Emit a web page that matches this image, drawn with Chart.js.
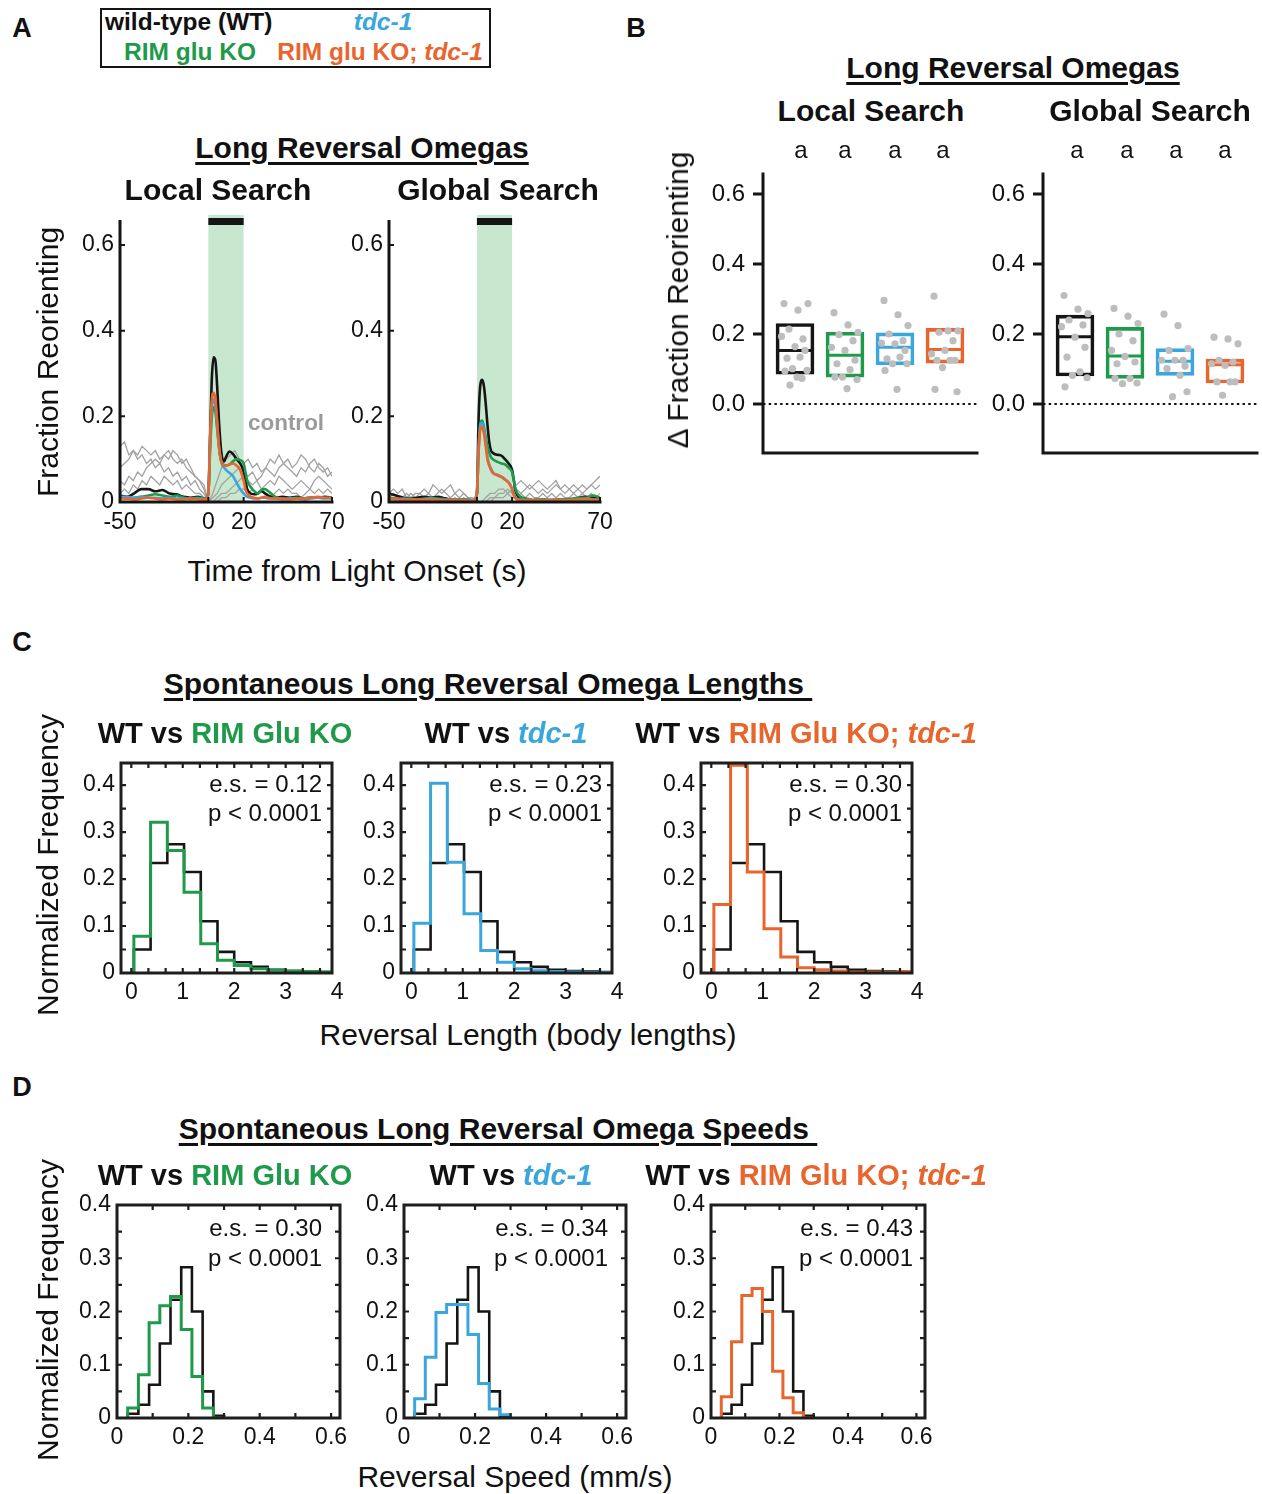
<!DOCTYPE html>
<html><head><meta charset="utf-8">
<script src="https://cdn.jsdelivr.net/npm/chart.js@4.4.1/dist/chart.umd.min.js"></script>
<style>
body{margin:0;background:#fff;}
#page{position:relative;width:1262px;height:1494px;overflow:hidden;background:#fff;font-family:'Liberation Sans',Arial,sans-serif;}
.t{position:absolute;white-space:nowrap;transform:translate(-50%,-50%);line-height:1;color:#111;}
canvas{position:absolute;}
</style></head><body><div id="page"></div>
<script>
// ---------------- DATA ----------------
const groups = ['WT', 'RIM glu KO', 'tdc-1', 'RIM glu KO; tdc-1'];

// Panel A: time axis (s) and mean traces
const tMain = [-50,-46,-42,-38,-34,-30,-26,-22,-18,-14,-10,-6,-2,0,1,2,3,4,5,6,7,8,9,10,12,14,16,18,20,21,22,24,26,28,30,32,34,38,42,46,50,54,58,62,66,70];
const localWT  = [0.015,0.012,0.02,0.03,0.03,0.025,0.028,0.02,0.018,0.012,0.01,0.012,0.008, 0.02,0.15,0.29,0.338,0.33,0.27,0.19,0.13,0.1,0.095,0.105, 0.118,0.112,0.1,0.09,0.072, 0.05,0.03,0.02,0.018,0.02,0.025,0.02,0.015, 0.01,0.012,0.01,0.012,0.008,0.01,0.01,0.012,0.01];
const localRIM = [0.01,0.008,0.01,0.012,0.015,0.018,0.015,0.012,0.015,0.01,0.008,0.01,0.008, 0.02,0.12,0.2,0.222,0.21,0.17,0.13,0.1,0.09,0.085,0.085, 0.088,0.095,0.1,0.098,0.09, 0.07,0.05,0.035,0.025,0.02,0.028,0.03,0.025, 0.012,0.008,0.008,0.01,0.008,0.01,0.01,0.01,0.01];
const localTDC = [0.012,0.012,0.01,0.012,0.01,0.01,0.008,0.01,0.008,0.008,0.006,0.008,0.006, 0.02,0.14,0.225,0.24,0.225,0.18,0.13,0.1,0.085,0.08,0.075, 0.068,0.06,0.045,0.03,0.02, 0.015,0.012,0.01,0.008,0.008,0.01,0.01,0.008, 0.008,0.006,0.008,0.008,0.006,0.008,0.01,0.008,0.008];
const localDBL = [0.008,0.008,0.006,0.008,0.01,0.008,0.006,0.008,0.006,0.006,0.008,0.006,0.005, 0.02,0.15,0.24,0.255,0.24,0.19,0.13,0.1,0.088,0.085,0.085, 0.088,0.09,0.085,0.075,0.05, 0.03,0.02,0.012,0.01,0.008,0.01,0.012,0.01, 0.008,0.008,0.006,0.008,0.008,0.01,0.012,0.01,0.01];
const globalWT  = [0.02,0.015,0.01,0.008,0.01,0.012,0.01,0.012,0.008,0.006,0.005,0.005,0.004, 0.02,0.2,0.275,0.285,0.27,0.23,0.18,0.14,0.12,0.115,0.112, 0.11,0.108,0.1,0.09,0.075, 0.05,0.025,0.01,0.006,0.005,0.005,0.004,0.005, 0.005,0.004,0.005,0.006,0.005,0.01,0.012,0.01,0.008];
const globalRIM = [0.01,0.008,0.006,0.008,0.006,0.008,0.01,0.008,0.006,0.005,0.005,0.006,0.004, 0.02,0.13,0.185,0.19,0.175,0.15,0.13,0.115,0.105,0.1,0.097, 0.093,0.09,0.088,0.08,0.07, 0.05,0.03,0.015,0.01,0.008,0.006,0.005,0.006, 0.006,0.005,0.006,0.006,0.008,0.01,0.01,0.015,0.01];
const globalTDC = [0.008,0.006,0.008,0.006,0.005,0.006,0.008,0.006,0.005,0.006,0.004,0.005,0.004, 0.02,0.125,0.18,0.185,0.17,0.14,0.105,0.088,0.078,0.07,0.066, 0.063,0.059,0.053,0.046,0.032, 0.018,0.01,0.006,0.005,0.004,0.005,0.004,0.005, 0.004,0.005,0.004,0.005,0.004,0.006,0.005,0.006,0.005];
const globalDBL = [0.006,0.008,0.006,0.005,0.006,0.005,0.006,0.005,0.004,0.005,0.004,0.004,0.003, 0.02,0.12,0.17,0.175,0.16,0.13,0.1,0.085,0.075,0.068,0.065, 0.062,0.058,0.052,0.045,0.03, 0.015,0.008,0.005,0.004,0.004,0.005,0.004,0.004, 0.004,0.004,0.005,0.004,0.005,0.006,0.008,0.006,0.005];

// Panel A: control (no light) traces
const tCtrl = [-50,-47.5,-45,-42.5,-40,-37.5,-35,-32.5,-30,-27.5,-25,-22.5,-20,-17.5,-15,-12.5,-10,-7.5,-5,-2.5,0,2.5,5,7.5,10,12.5,15,17.5,20,22.5,25,27.5,30,32.5,35,37.5,40,42.5,45,47.5,50,52.5,55,57.5,60,62.5,65,67.5,70];
const localCtrl1 = [0.13,0.14,0.11,0.12,0.10,0.11,0.09,0.10,0.08,0.09,0.07,0.08,0.06,0.07,0.05,0.06,0.04,0.05,0.03,0.02, 0.0, 0.02,0.05,0.08,0.10,0.11,0.12,0.10,0.09, 0.10,0.08,0.09,0.07,0.08,0.10,0.09,0.11,0.09,0.10,0.08,0.09,0.11,0.10,0.08,0.07,0.09,0.08,0.06,0.07];
const localCtrl2 = [0.08,0.09,0.10,0.12,0.11,0.13,0.12,0.11,0.12,0.10,0.11,0.12,0.10,0.09,0.10,0.08,0.07,0.06,0.05,0.04, 0.0, 0.01,0.02,0.04,0.05,0.06,0.07,0.08,0.07, 0.06,0.07,0.05,0.06,0.08,0.07,0.06,0.08,0.09,0.08,0.07,0.06,0.08,0.07,0.09,0.10,0.08,0.07,0.08,0.06];
const localCtrl3 = [0.05,0.04,0.06,0.05,0.07,0.06,0.08,0.09,0.10,0.09,0.11,0.10,0.12,0.11,0.09,0.10,0.08,0.06,0.05,0.03, 0.0, 0.0,0.01,0.02,0.02,0.03,0.04,0.05,0.06, 0.05,0.04,0.05,0.03,0.04,0.05,0.04,0.06,0.05,0.04,0.03,0.04,0.05,0.04,0.03,0.05,0.06,0.05,0.04,0.03];
const localCtrl4 = [0.02,0.03,0.02,0.04,0.03,0.05,0.04,0.06,0.05,0.04,0.06,0.05,0.04,0.05,0.03,0.04,0.03,0.02,0.02,0.01, 0.0, 0.0,0.0,0.01,0.01,0.02,0.02,0.03,0.03, 0.02,0.03,0.02,0.03,0.02,0.01,0.02,0.03,0.02,0.03,0.02,0.02,0.01,0.02,0.03,0.02,0.03,0.02,0.03,0.02];
const globalCtrl1 = [0.02,0.03,0.02,0.03,0.01,0.02,0.01,0.02,0.03,0.02,0.04,0.03,0.02,0.03,0.04,0.02,0.03,0.02,0.01,0.01, 0.0, 0.0,0.01,0.02,0.02,0.03,0.03,0.02,0.03, 0.04,0.05,0.04,0.03,0.04,0.05,0.04,0.03,0.04,0.05,0.03,0.04,0.03,0.04,0.03,0.04,0.03,0.04,0.05,0.06];
const globalCtrl2 = [0.01,0.02,0.01,0.01,0.02,0.01,0.02,0.02,0.01,0.02,0.01,0.02,0.03,0.02,0.01,0.02,0.01,0.02,0.01,0.0, 0.0, 0.0,0.0,0.01,0.01,0.02,0.02,0.03,0.02, 0.03,0.02,0.03,0.04,0.03,0.02,0.03,0.02,0.03,0.04,0.03,0.02,0.03,0.02,0.03,0.02,0.03,0.04,0.03,0.04];
const globalCtrl3 = [0.0,0.01,0.0,0.01,0.0,0.01,0.01,0.0,0.01,0.0,0.01,0.0,0.01,0.01,0.0,0.01,0.0,0.01,0.0,0.0, 0.0, 0.0,0.0,0.0,0.01,0.01,0.01,0.02,0.01, 0.01,0.02,0.01,0.02,0.01,0.01,0.02,0.01,0.02,0.01,0.02,0.01,0.01,0.02,0.01,0.02,0.01,0.02,0.01,0.02];
const aXTicks = [-50, 0, 20, 70];
const aYTicks = [0, 0.2, 0.4, 0.6];

// Panel B: box (q1, q3, median) and per-animal points
const localQ1  = [0.085, 0.077, 0.112, 0.117];
const localQ3  = [0.230, 0.205, 0.203, 0.216];
const localMed = [0.153, 0.139, 0.162, 0.156];
const globalQ1  = [0.080, 0.073, 0.082, 0.060];
const globalQ3  = [0.254, 0.219, 0.158, 0.128];
const globalMed = [0.192, 0.137, 0.122, 0.112];
const localDotsWT  = [0.287,0.268,0.287,0.214,0.186,0.193,0.164,0.153,0.131,0.134,0.101,0.096,0.094,0.077,0.073,0.054];
const localDotsRIM = [0.261,0.226,0.205,0.198,0.181,0.162,0.153,0.125,0.115,0.098,0.077,0.070,0.077,0.044];
const localDotsTDC = [0.296,0.255,0.224,0.200,0.181,0.174,0.172,0.153,0.129,0.134,0.115,0.115,0.096,0.042];
const localDotsDBL = [0.308,0.209,0.209,0.205,0.181,0.143,0.153,0.125,0.125,0.125,0.104,0.035,0.042];
const globalDotsWT  = [0.310,0.271,0.258,0.240,0.226,0.221,0.191,0.162,0.134,0.092,0.082,0.075,0.049];
const globalDotsRIM = [0.273,0.251,0.230,0.200,0.181,0.153,0.136,0.120,0.115,0.073,0.058,0.060,0.073];
const globalDotsTDC = [0.257,0.224,0.158,0.153,0.125,0.125,0.125,0.108,0.101,0.082,0.021,0.035];
const globalDotsDBL = [0.191,0.186,0.172,0.125,0.120,0.115,0.110,0.063,0.063,0.063,0.025];
const bYTicks = [0, 0.2, 0.4, 0.6];
const sigLetters = ['a', 'a', 'a', 'a'];

// Panel C: reversal length histograms (bin edges in body lengths)
const lenEdges = [0.05,0.375,0.7,1.025,1.35,1.675,2.0,2.325,2.65,2.975,3.3,3.625,3.95];
const lenWT  = [0.050,0.234,0.274,0.215,0.110,0.045,0.023,0.013,0.007,0.004,0.003,0.002];
const lenRIM = [0.078,0.321,0.261,0.172,0.062,0.027,0.016,0.009,0.006,0.004,0.003,0.002];
const lenTDC = [0.106,0.404,0.236,0.126,0.048,0.023,0.009,0.005,0.003,0.002,0.001,0.001];
const lenDBL = [0.146,0.442,0.215,0.094,0.034,0.011,0.007,0.004,0.002,0.002,0.001,0.003];
const lenES = ['0.12', '0.23', '0.30'];
const cXTicks = [0, 1, 2, 3, 4];
const cXMinor = [0.333,0.667,1.333,1.667,2.333,2.667,3.333,3.667];
const cYTicks = [0, 0.1, 0.2, 0.3, 0.4];

// Panel D: reversal speed histograms (bin edges in mm/s)
const spdEdges = [0.03,0.06,0.09,0.12,0.15,0.18,0.21,0.24,0.27,0.30];
const spdWT  = [0.008,0.025,0.0625,0.140,0.222,0.283,0.200,0.050,0.004];
const spdRIM = [0.019,0.081,0.179,0.211,0.228,0.166,0.078,0.019,0.0];
const spdTDC = [0.036,0.114,0.198,0.213,0.213,0.157,0.065,0.017,0.006];
const spdDBL = [0.040,0.143,0.230,0.243,0.200,0.088,0.038,0.010,0.0];
const spdES = ['0.30', '0.34', '0.43'];
const dXTicks = [0, 0.2, 0.4, 0.6];
const dXMinor = [0.1, 0.3, 0.5];
const dYTicks = [0, 0.1, 0.2, 0.3, 0.4];
const yMinor05 = [0.05, 0.15, 0.25, 0.35];

// ---------------- STYLE ----------------
const C_WT = '#151515', C_RIM = '#1f9a4b', C_TDC = '#3aa6dc', C_DBL = '#e8662e';
const FONT = "'Liberation Sans', Arial, sans-serif";
Chart.defaults.font.family = FONT;
Chart.defaults.color = '#111';
const page = document.getElementById('page');

function txt(html, x, y, o = {}) {
  const d = document.createElement('div');
  d.className = 't';
  d.innerHTML = html;
  d.style.left = x + 'px'; d.style.top = y + 'px';
  d.style.fontSize = (o.size || 28) + 'px';
  d.style.fontWeight = o.bold ? '700' : '400';
  if (o.color) d.style.color = o.color;
  let tr = 'translate(-50%,-50%)';
  if (o.rot) tr += ' rotate(-90deg)';
  if (o.left) tr = 'translate(0,-50%)';
  d.style.transform = tr;
  if (o.under) { d.style.textDecoration = 'underline'; d.style.textDecorationThickness = '2.5px'; d.style.textUnderlineOffset = '4px'; }
  page.appendChild(d);
  return d;
}

function fixedTicks(arr) { return s => { s.ticks = arr.map(v => ({ value: v })); }; }

function makeChart(L, T, W, H, padL, padB, config) {
  const padT = 24, padR = 34;
  const c = document.createElement('canvas');
  c.width = W + padL + padR; c.height = H + padT + padB;
  c.style.left = (L - padL) + 'px'; c.style.top = (T - padT) + 'px';
  c.style.width = c.width + 'px'; c.style.height = c.height + 'px';
  page.appendChild(c);
  const o = config.options;
  o.responsive = false; o.animation = false; o.devicePixelRatio = 1;
  o.events = [];
  o.layout = { padding: { top: padT, right: padR, left: 0, bottom: 0 } };
  o.plugins = Object.assign({ legend: { display: false }, tooltip: { enabled: false } }, o.plugins || {});
  o.scales.x.afterFit = s => { s.height = padB; s.paddingLeft = 0; s.paddingRight = 0; };
  o.scales.y.afterFit = s => { s.width = padL; s.paddingTop = 0; s.paddingBottom = 0; };
  return new Chart(c, config);
}

// frame / axes / ticks drawn from the scales
function framePlugin(f) {
  return {
    id: 'frame',
    afterDatasetsDraw(chart) {
      const { ctx, chartArea: a, scales: { x, y } } = chart;
      ctx.save();
      ctx.strokeStyle = f.color || '#151515';
      ctx.lineWidth = f.width;
      ctx.lineCap = 'square';
      ctx.beginPath();
      if (f.box) {
        ctx.rect(a.left, a.top, a.right - a.left, a.bottom - a.top);
      } else {
        const top = f.leftTop != null ? y.getPixelForValue(f.leftTop) : a.top;
        ctx.moveTo(a.left, top); ctx.lineTo(a.left, a.bottom);
        ctx.moveTo(a.left, a.bottom); ctx.lineTo(a.right, a.bottom);
      }
      ctx.stroke();
      ctx.lineCap = 'butt';
      ctx.lineWidth = f.tickWidth;
      ctx.beginPath();
      (f.xTicks || []).forEach(v => {
        const px = x.getPixelForValue(v);
        ctx.moveTo(px, a.bottom); ctx.lineTo(px, a.bottom - f.tickLen);
        if (f.box) { ctx.moveTo(px, a.top); ctx.lineTo(px, a.top + f.tickLen); }
      });
      (f.yTicks || []).forEach(v => {
        const py = y.getPixelForValue(v);
        const d = f.outward ? -f.tickLen : f.tickLen;
        ctx.moveTo(a.left, py); ctx.lineTo(a.left + d, py);
        if (f.box) { ctx.moveTo(a.right, py); ctx.lineTo(a.right - f.tickLen, py); }
      });
      ctx.stroke();
      ctx.restore();
    }
  };
}

// ---------------- PANEL A ----------------
const shadePlugin = {
  id: 'shade',
  beforeDatasetsDraw(chart) {
    const { ctx, chartArea: a, scales: { x } } = chart;
    const x0 = x.getPixelForValue(0), x1 = x.getPixelForValue(20);
    ctx.save();
    ctx.fillStyle = '#c7e7cf';
    ctx.fillRect(x0, a.top, x1 - x0, a.bottom - a.top);
    ctx.fillStyle = '#151515';
    ctx.fillRect(x0, a.top + 3, x1 - x0, 7);
    ctx.restore();
  }
};

function panelA(L, W, traces, ctrls) {
  const ds = [];
  const line = (vals, color, order) => ({
    data: tMain.map((t, i) => ({ x: t, y: vals[i] })), borderColor: color, borderWidth: 2.6,
    pointRadius: 0, cubicInterpolationMode: 'monotone', fill: false, order
  });
  ds.push(line(traces[3], C_DBL, 1));
  ds.push(line(traces[2], C_TDC, 2));
  ds.push(line(traces[1], C_RIM, 3));
  ds.push(line(traces[0], C_WT, 4));
  ctrls.forEach((v, k) => ds.push({
    data: tCtrl.map((t, i) => ({ x: t, y: v[i] })), borderColor: '#a2a2a2', borderWidth: 1.3,
    pointRadius: 0, tension: 0, fill: false, order: 10 + k
  }));
  makeChart(L, 215, W, 287, 60, 40, {
    type: 'line',
    data: { datasets: ds },
    options: {
      scales: {
        x: { type: 'linear', min: -50, max: 70, bounds: 'data', afterBuildTicks: fixedTicks(aXTicks),
             grid: { display: false, drawTicks: false }, border: { display: false },
             ticks: { font: { size: 23 }, color: '#111', padding: 7, maxRotation: 0, autoSkip: false } },
        y: { type: 'linear', min: 0, max: 0.67, bounds: 'data', afterBuildTicks: fixedTicks(aYTicks),
             grid: { display: false, drawTicks: false }, border: { display: false },
             ticks: { font: { size: 23 }, color: '#111', padding: 6, callback: v => v === 0 ? '0' : v.toFixed(1) } }
      }
    },
    plugins: [shadePlugin, framePlugin({ width: 3, leftTop: 0.655, tickWidth: 2, tickLen: 5, xTicks: aXTicks, yTicks: aYTicks })]
  });
}

panelA(120, 212, [localWT, localRIM, localTDC, localDBL], [localCtrl1, localCtrl2, localCtrl3, localCtrl4]);
panelA(389, 211, [globalWT, globalRIM, globalTDC, globalDBL], [globalCtrl1, globalCtrl2, globalCtrl3]);

// ---------------- PANEL B ----------------
const jit = [-0.22, 0.06, 0.26, -0.12, 0.16, -0.27, 0.0, 0.2, -0.16, 0.1, -0.05, 0.24, -0.2, 0.04, 0.14, -0.1];
const boxColors = [C_WT, C_RIM, C_TDC, C_DBL];

function panelB(L, q1, q3, med, dots) {
  const pts = [];
  dots.forEach((arr, g) => arr.forEach((v, i) => pts.push({ x: g + 1 + jit[i % jit.length], y: v })));
  const medianPlugin = {
    id: 'median',
    afterDatasetDraw(chart, args) {
      if (args.index !== 1) return;
      const { ctx, scales: { y } } = chart;
      const meta = chart.getDatasetMeta(1);
      ctx.save();
      ctx.lineWidth = 3;
      meta.data.forEach((bar, i) => {
        const py = y.getPixelForValue(med[i]);
        ctx.strokeStyle = boxColors[i];
        ctx.beginPath();
        ctx.moveTo(bar.x - bar.width / 2, py); ctx.lineTo(bar.x + bar.width / 2, py);
        ctx.stroke();
      });
      ctx.restore();
    }
  };
  const zeroPlugin = {
    id: 'zero',
    beforeDatasetsDraw(chart) {
      const { ctx, chartArea: a, scales: { y } } = chart;
      const py = y.getPixelForValue(0);
      ctx.save();
      ctx.strokeStyle = '#151515'; ctx.lineWidth = 2.2; ctx.setLineDash([2.5, 3.2]);
      ctx.beginPath(); ctx.moveTo(a.left, py); ctx.lineTo(a.right, py); ctx.stroke();
      ctx.restore();
    }
  };
  makeChart(L, 173, 214, 280, 70, 10, {
    type: 'bar',
    data: {
      datasets: [
        { type: 'scatter', data: pts, backgroundColor: '#bdbdbd', borderWidth: 0, pointRadius: 3.6, order: 0 },
        { type: 'bar', data: groups.map((g, i) => ({ x: i + 1, y: [q1[i], q3[i]] })),
          backgroundColor: 'rgba(0,0,0,0)', borderColor: boxColors, borderWidth: 3, borderSkipped: false,
          barThickness: 38, order: 1 }
      ]
    },
    options: {
      scales: {
        x: { type: 'linear', min: 0.36, max: 4.64, bounds: 'data', offset: false, grid: { display: false, drawTicks: false, offset: false },
             border: { display: false }, ticks: { display: false } },
        y: { type: 'linear', min: -0.14, max: 0.66, bounds: 'data', afterBuildTicks: fixedTicks(bYTicks),
             grid: { display: false, drawTicks: false }, border: { display: false },
             ticks: { font: { size: 24 }, color: '#111', padding: 18, callback: v => v.toFixed(1) } }
      }
    },
    plugins: [zeroPlugin, medianPlugin, framePlugin({ width: 3, leftTop: 0.657, tickWidth: 3, tickLen: 10, outward: true, yTicks: bYTicks })]
  });
}
panelB(763, localQ1, localQ3, localMed, [localDotsWT, localDotsRIM, localDotsTDC, localDotsDBL]);
panelB(1043, globalQ1, globalQ3, globalMed, [globalDotsWT, globalDotsRIM, globalDotsTDC, globalDotsDBL]);

// ---------------- PANELS C & D ----------------
function stairs(edges, vals) {
  const p = [{ x: edges[0], y: 0 }];
  vals.forEach((v, i) => { p.push({ x: edges[i], y: v }); p.push({ x: edges[i + 1], y: v }); });
  p.push({ x: edges[vals.length], y: 0 });
  return p;
}
function notePlugin(lines, dx, dy) {
  return {
    id: 'note',
    afterDraw(chart) {
      const { ctx, chartArea: a } = chart;
      ctx.save();
      ctx.font = '24px ' + FONT; ctx.fillStyle = '#111';
      ctx.textAlign = 'right'; ctx.textBaseline = 'middle';
      lines.forEach((s, i) => ctx.fillText(s, a.right - dx, a.top + dy[i]));
      ctx.restore();
    }
  };
}
function hist(L, T, W, H, xr, ymax, edges, wt, mut, color, xT, xMinor, yT, es, dx, dy, xfmt) {
  makeChart(L, T, W, H, 50, 40, {
    type: 'line',
    data: {
      datasets: [
        { data: stairs(edges, mut), borderColor: color, borderWidth: 3, pointRadius: 0, tension: 0, fill: false, order: 0 },
        { data: stairs(edges, wt), borderColor: C_WT, borderWidth: 2.6, pointRadius: 0, tension: 0, fill: false, order: 1 }
      ]
    },
    options: {
      scales: {
        x: { type: 'linear', min: xr[0], max: xr[1], bounds: 'data', afterBuildTicks: fixedTicks(xT),
             grid: { display: false, drawTicks: false }, border: { display: false },
             ticks: { font: { size: 23 }, color: '#111', padding: 6, maxRotation: 0, autoSkip: false, callback: xfmt } },
        y: { type: 'linear', min: 0, max: ymax, bounds: 'data', afterBuildTicks: fixedTicks(yT),
             grid: { display: false, drawTicks: false }, border: { display: false },
             ticks: { font: { size: 23 }, color: '#111', padding: 6, callback: v => v === 0 ? '0' : v.toFixed(1) } }
      }
    },
    plugins: [framePlugin({ box: true, width: 3, color: '#1e1e1e', tickWidth: 2.2, tickLen: 5,
                            xTicks: xT.concat(xMinor).filter(v => v > xr[0] && v < xr[1]), yTicks: yT.concat(yMinor05).filter(v => v > 0 && v < ymax) }),
              notePlugin(['e.s. = ' + es, 'p < 0.0001'], dx, dy)]
  });
}
const intFmt = v => String(v);
const decFmt = v => v === 0 ? '0' : v.toFixed(1);
hist(121, 763, 211, 210, [-0.2, 3.9], 0.447, lenEdges, lenWT, lenRIM, C_RIM, cXTicks, cXMinor, cYTicks, lenES[0], 10, [22, 51], intFmt);
hist(401, 763, 211, 210, [-0.2, 3.9], 0.447, lenEdges, lenWT, lenTDC, C_TDC, cXTicks, cXMinor, cYTicks, lenES[1], 10, [22, 51], intFmt);
hist(701, 763, 211, 210, [-0.2, 3.9], 0.447, lenEdges, lenWT, lenDBL, C_DBL, cXTicks, cXMinor, cYTicks, lenES[2], 10, [22, 51], intFmt);
hist(117, 1205, 223, 213, [0, 0.625], 0.4, spdEdges, spdWT, spdRIM, C_RIM, dXTicks, dXMinor, dYTicks, spdES[0], 18, [24, 54], decFmt);
hist(404, 1205, 222, 213, [0, 0.625], 0.4, spdEdges, spdWT, spdTDC, C_TDC, dXTicks, dXMinor, dYTicks, spdES[1], 18, [24, 54], decFmt);
hist(711, 1205, 214, 213, [0, 0.625], 0.4, spdEdges, spdWT, spdDBL, C_DBL, dXTicks, dXMinor, dYTicks, spdES[2], 12, [24, 54], decFmt);

// ---------------- TEXT ----------------
txt('A', 22, 28, { bold: true, size: 27 });
txt('B', 636, 28, { bold: true, size: 27 });
txt('C', 22, 642, { bold: true, size: 27 });
txt('D', 22, 1087, { bold: true, size: 27 });

const lg = document.createElement('div');
lg.style.cssText = 'position:absolute;left:100px;top:8px;width:387px;height:56px;border:2px solid #151515;';
page.appendChild(lg);
txt('wild-type (WT)', 105, 22, { bold: true, size: 24.5, left: true });
txt('<i>tdc-1</i>', 383, 22, { bold: true, size: 24.5, color: C_TDC });
txt('RIM glu KO', 190, 52, { bold: true, size: 24.5, color: C_RIM });
txt('RIM glu KO; <i>tdc-1</i>', 380, 52, { bold: true, size: 24.5, color: C_DBL });

txt('Long Reversal Omegas', 362, 148, { bold: true, size: 30, under: true });
txt('Local Search', 218, 190, { bold: true, size: 30 });
txt('Global Search', 498, 190, { bold: true, size: 30 });
txt('control', 286, 423, { bold: true, size: 22.5, color: '#9a9a9a' });
txt('Fraction Reorienting', 48, 362, { size: 30, rot: true });
txt('Time from Light Onset (s)', 357, 571, { size: 30 });

txt('Long Reversal Omegas', 1013, 68, { bold: true, size: 30, under: true });
txt('Local Search', 871, 111, { bold: true, size: 30 });
txt('Global Search', 1150, 111, { bold: true, size: 30 });
[801, 845, 895, 943].forEach((x, i) => txt(sigLetters[i], x, 150, { size: 24 }));
[1077, 1127, 1176, 1225].forEach((x, i) => txt(sigLetters[i], x, 150, { size: 24 }));
txt('\u0394 Fraction Reorienting', 678, 300, { size: 30, rot: true });

txt('Spontaneous Long Reversal Omega Lengths\u00a0', 488, 684, { bold: true, size: 30, under: true });
txt('WT vs <span style="color:' + C_RIM + '">RIM Glu KO</span>', 225, 733, { bold: true, size: 29 });
txt('WT vs <span style="color:' + C_TDC + '"><i>tdc-1</i></span>', 506, 733, { bold: true, size: 29 });
txt('WT vs <span style="color:' + C_DBL + '">RIM Glu KO; <i>tdc-1</i></span>', 806, 733, { bold: true, size: 29 });
txt('Normalized Frequency', 48, 865, { size: 30, rot: true });
txt('Reversal Length (body lengths)', 528, 1035, { size: 30 });

txt('Spontaneous Long Reversal Omega Speeds\u00a0', 498, 1129, { bold: true, size: 30, under: true });
txt('WT vs <span style="color:' + C_RIM + '">RIM Glu KO</span>', 225, 1175, { bold: true, size: 29 });
txt('WT vs <span style="color:' + C_TDC + '"><i>tdc-1</i></span>', 511, 1175, { bold: true, size: 29 });
txt('WT vs <span style="color:' + C_DBL + '">RIM Glu KO; <i>tdc-1</i></span>', 816, 1175, { bold: true, size: 29 });
txt('Normalized Frequency', 48, 1310, { size: 30, rot: true });
txt('Reversal Speed (mm/s)', 515, 1477, { size: 30 });
</script></body></html>
